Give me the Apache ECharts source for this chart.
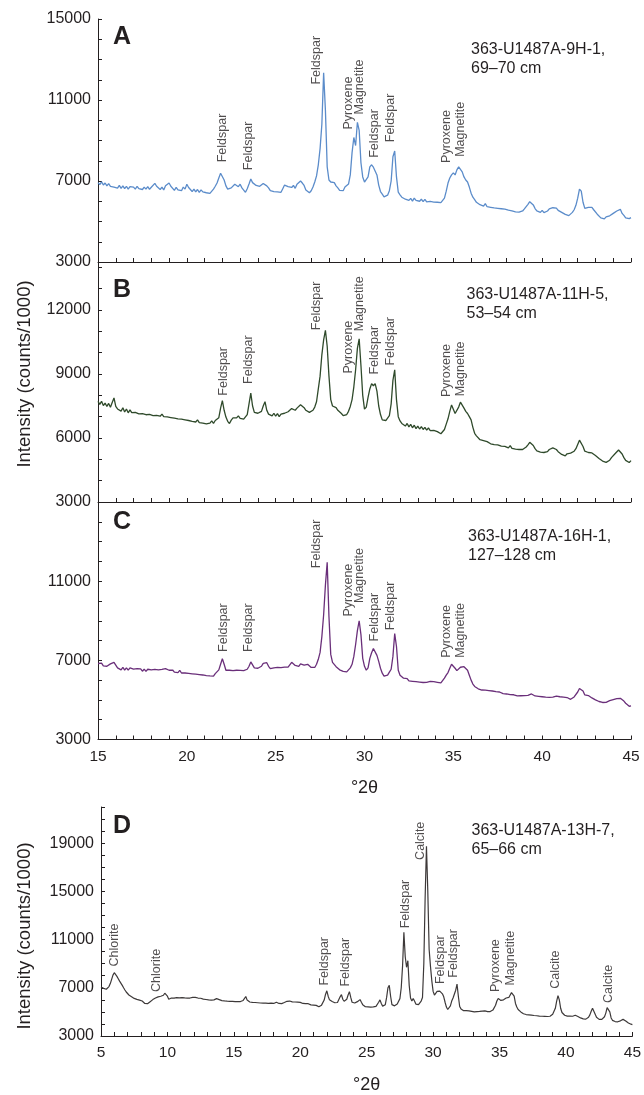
<!DOCTYPE html>
<html>
<head>
<meta charset="utf-8">
<script src="https://cdn.jsdelivr.net/npm/echarts@6/dist/echarts.min.js"></script>
<style>
  html, body { margin: 0; padding: 0; background: #ffffff; }
  #chart { width: 644px; height: 1095px; }
</style>
</head>
<body>
<div id="chart"></div>
<script>
// XRD diffractograms, Site U1487 — intensity sampled every 0.1 °2θ
const stepDeg = 0.1;
const startABC = 15;   // panels A–C start at 15 °2θ
const startD = 5;      // panel D starts at 5 °2θ

// Panel A: 363-U1487A-9H-1, 69–70 cm (one row per degree, 15–45 °2θ)
const intensityA = [
  6920,6820,6960,6800,6900,6760,6870,6740,6800,6700,
  6790,6650,6780,6640,6760,6620,6740,6600,6720,6640,
  6700,6600,6740,6620,6680,6580,6700,6600,6720,6590,
  6690,6760,6880,6740,6690,6580,6700,6560,6760,6840,
  6900,6740,6660,6540,6690,6560,6620,6520,6700,6600,
  6840,6680,6620,6480,6600,6460,6580,6440,6560,6460,
  6520,6420,6500,6390,6480,6600,6740,6900,7150,7380,
  7420,7050,6760,6600,6560,6660,6700,6840,6900,6720,
  6840,6660,6580,6440,6620,6850,7100,6920,6900,6780,
  6820,6740,6800,6880,6950,6760,6660,6520,6580,6480,
  6560,6460,6540,6440,6620,6800,6880,6720,6740,6680,
  6780,6640,6840,6880,7000,6900,6780,6560,6480,6420,
  6520,6700,6950,7250,7800,8600,9800,12350,10500,7700,
  7050,6950,6860,6920,6760,6660,6540,6580,6520,6700,
  6640,6850,7300,8400,9150,8750,9900,9500,7900,7200,
  6950,6900,7200,7700,7800,7680,7650,7300,6800,6480,
  6350,6220,6180,6300,6520,7000,8200,8480,7200,6450,
  6320,6200,6220,6100,6160,6040,6140,6010,6150,6040,
  6120,6000,6100,5980,6090,5970,6060,5990,6070,5960,
  6040,5950,6020,5930,6010,6150,6500,6900,7150,7300,
  7400,7300,7550,7700,7650,7450,7200,7050,6950,6700,
  6400,6200,6080,5950,5920,5830,5870,5760,5880,5730,
  5790,5700,5760,5670,5740,5650,5720,5630,5690,5610,
  5660,5560,5640,5530,5590,5480,5560,5460,5540,5520,
  5620,5700,5850,5980,5990,5820,5640,5520,5540,5450,
  5550,5440,5530,5520,5620,5560,5680,5620,5660,5550,
  5560,5450,5460,5350,5380,5290,5380,5450,5580,5800,
  6150,6600,6500,5950,5650,5620,5700,5740,5700,5580,
  5540,5360,5300,5180,5220,5130,5230,5150,5280,5290,
  5400,5430,5520,5550,5600,5400,5300,5180,5200,5140,
  5190
];

// Panel B: 363-U1487A-11H-5, 53–54 cm
const intensityB = [
  7720,7580,7720,7520,7640,7480,7620,7440,7660,7880,
  7480,7360,7400,7260,7420,7220,7360,7180,7320,7190,
  7260,7200,7240,7130,7220,7140,7190,7090,7180,7110,
  7150,7050,7140,7060,7110,7020,7120,7000,7080,6990,
  7050,6960,7040,6930,6990,6900,6970,6880,6940,6850,
  6910,6820,6890,6780,6870,6750,6850,6720,6790,6700,
  6760,6660,6740,6700,6800,6690,6820,6740,6950,7400,
  7750,7300,6980,6780,6680,6840,6940,7020,6940,7040,
  6920,7010,6880,6970,7100,7600,8100,7500,7200,7120,
  7160,7100,7250,7500,7700,7300,7120,7180,7040,7160,
  7020,7140,7000,7120,7080,7160,7100,7230,7240,7380,
  7420,7300,7400,7440,7560,7500,7420,7300,7280,7200,
  7260,7300,7450,7700,8300,8900,9900,10600,11050,10300,
  8900,7800,7500,7450,7420,7300,7220,7150,7050,6990,
  7100,7250,7480,7800,8400,9200,10200,10650,9400,8000,
  7350,7450,7900,8300,8550,8450,8550,8200,7500,7100,
  6850,6760,6820,6900,7050,7600,8700,9200,7800,7000,
  6800,6680,6700,6560,6680,6520,6640,6480,6600,6440,
  6560,6420,6530,6400,6500,6370,6470,6350,6420,6360,
  6380,6300,6320,6200,6240,6400,6650,6900,7250,7550,
  7600,7150,7200,7450,7680,7650,7400,7250,7150,7000,
  6850,6500,6220,6100,6050,5920,5940,5880,5900,5830,
  5850,5730,5820,5690,5740,5680,5720,5620,5700,5610,
  5650,5540,5640,5510,5580,5480,5570,5460,5550,5460,
  5520,5580,5680,5800,5820,5650,5500,5400,5380,5340,
  5400,5320,5370,5360,5460,5450,5540,5480,5460,5360,
  5340,5230,5240,5160,5260,5180,5290,5280,5380,5500,
  5700,5900,5930,5600,5380,5420,5320,5400,5300,5280,
  5180,5140,5040,5000,4920,4920,4860,4940,4960,5080,
  5120,5260,5330,5440,5430,5250,5080,4950,4900,4850,
  4940
];

// Panel C: 363-U1487A-16H-1, 127–128 cm
const intensityC = [
  6840,6740,6860,6720,6820,6700,6800,6820,6900,6900,
  6760,6620,6640,6520,6650,6510,6620,6500,6620,6520,
  6560,6470,6580,6480,6570,6450,6560,6440,6550,6460,
  6520,6440,6540,6450,6520,6420,6540,6460,6580,6480,
  6500,6400,6510,6400,6480,6380,6490,6360,6460,6360,
  6430,6340,6420,6320,6410,6300,6390,6280,6370,6260,
  6330,6230,6310,6210,6290,6200,6330,6420,6520,6800,
  7080,6800,6500,6400,6500,6400,6480,6380,6500,6400,
  6490,6390,6480,6460,6550,6700,6920,6850,6620,6560,
  6600,6600,6700,6850,6920,6880,6700,6580,6520,6620,
  6530,6640,6540,6630,6560,6660,6570,6660,6740,6900,
  6920,6740,6640,6700,6820,6880,6760,6820,6800,6720,
  6640,6600,6640,6800,7050,7400,8200,9300,10800,11950,
  9200,7300,6900,6800,6680,6620,6520,6540,6440,6450,
  6420,6520,6620,6800,7200,7800,8500,9000,8300,7100,
  6700,6500,6620,7100,7380,7600,7550,7250,6950,6600,
  6350,6200,6170,6250,6400,6550,7200,8350,7700,6500,
  6250,6150,6100,6000,6080,5960,6040,5940,6010,5920,
  6000,5900,5980,5880,5960,5890,5900,5940,5840,5920,
  5820,5890,5800,5860,5960,6100,6250,6380,6600,6800,
  6830,6600,6480,6580,6650,6620,6680,6600,6500,6250,
  6000,5800,5680,5580,5560,5480,5500,5420,5490,5400,
  5470,5380,5450,5360,5420,5330,5400,5300,5320,5310,
  5300,5280,5270,5250,5260,5300,5200,5280,5210,5290,
  5220,5300,5230,5320,5300,5280,5200,5270,5180,5250,
  5160,5230,5140,5220,5130,5200,5140,5150,5190,5090,
  5160,5070,5140,5060,5120,5040,5030,5080,5150,5250,
  5400,5580,5660,5450,5250,5180,5220,5120,5100,5000,
  5000,4920,4920,4860,4870,4810,4880,4880,4960,4960,
  5020,5000,5070,5010,5080,4980,4940,4830,4780,4680,
  4700
];

// Panel D: 363-U1487A-13H-7, 65–66 cm (5–45 °2θ)
const intensityD = [
  7060,7000,6950,6900,6880,6950,7100,7350,7700,8050,
  8250,8150,7950,7750,7550,7400,7200,7000,6820,6650,
  6500,6400,6330,6260,6200,6120,6080,6040,6000,5980,
  5950,5900,5820,5700,5620,5680,5760,5850,5950,6020,
  6080,6150,6200,6250,6220,6300,6330,6380,6550,6700,
  6300,6050,6100,6150,6080,6140,6100,6180,6120,6170,
  6130,6190,6110,6160,6090,6140,6100,6150,6170,6200,
  6160,6210,6180,6150,6190,6130,6100,6060,6090,6030,
  6060,6000,6040,5980,6030,6000,6060,6100,6080,6020,
  5970,5940,5970,5910,5940,5890,5930,5880,5920,5870,
  5910,5860,5900,5850,5890,5860,5900,5950,6100,6280,
  5980,5860,5820,5850,5790,5830,5780,5810,5760,5800,
  5740,5780,5730,5770,5720,5760,5710,5750,5720,5760,
  5700,5740,5800,5740,5700,5740,5690,5730,5780,5840,
  5880,5850,5900,5860,5830,5870,5820,5780,5810,5760,
  5790,5740,5700,5730,5680,5640,5680,5620,5580,5620,
  5560,5600,5540,5480,5420,5460,5560,5700,5980,6450,
  6750,6300,6000,5900,5860,5820,5760,5800,5780,5900,
  6250,6430,6050,5880,5900,6050,6400,6680,6200,5800,
  5700,5740,5780,5850,5950,6020,5800,5600,5480,5430,
  5460,5420,5450,5400,5440,5420,5400,5460,5550,5800,
  6000,5700,5480,5450,5600,6200,7000,7200,6300,5600,
  5480,5500,5580,5650,5800,6100,7000,8800,11600,9600,
  8700,9250,7200,6150,5900,6100,5900,5650,5560,5600,
  5700,5900,6200,9000,14500,18750,15000,10200,8800,7600,
  6700,6400,6500,6700,6780,6720,6650,6500,6250,5800,
  5400,5200,5250,5500,5900,6150,6100,6800,7300,6300,
  5450,5250,5150,5100,5060,5100,5040,5080,5000,5040,
  4960,5000,4980,5030,4990,5040,5000,5060,5120,5080,
  5050,5020,5060,5030,5080,5150,5300,5550,5900,6120,
  6180,5950,5880,6000,6100,6150,6120,6200,6350,6600,
  6700,6300,5700,5400,5200,5100,5000,4920,4850,4800,
  4780,4820,4760,4790,4730,4760,4700,4740,4680,4710,
  4650,4690,4640,4680,4630,4670,4620,4660,4640,4700,
  4800,4950,5300,5900,6350,6000,5300,4950,4800,4720,
  4680,4650,4620,4650,4600,4640,4700,4720,4680,4620,
  4560,4500,4460,4420,4380,4400,4450,4550,4750,5050,
  5300,5200,4800,4550,4420,4380,4340,4380,4450,4600,
  4900,5350,5480,5000,4500,4300,4240,4200,4230,4180,
  4220,4260,4320,4380,4350,4250,4150,4080,4020,3980,
  3950
];

// Mineral identifications: [mineral, °2θ, intensity at the foot of the label]
const mineralsA = [
  ['Feldspar', 22.0, 7900], ['Feldspar', 23.5, 7510], ['Feldspar', 27.31, 11740],
  ['Pyroxene', 29.09, 9520], ['Magnetite', 29.74, 10260], ['Feldspar', 30.59, 8120],
  ['Feldspar', 31.47, 8890], ['Pyroxene', 34.62, 7870], ['Magnetite', 35.41, 8170]
];
const mineralsB = [
  ['Feldspar', 22.05, 7960], ['Feldspar', 23.5, 8510], ['Feldspar', 27.31, 11030],
  ['Pyroxene', 29.09, 9000], ['Magnetite', 29.74, 10980], ['Feldspar', 30.59, 8950],
  ['Feldspar', 31.47, 9370], ['Pyroxene', 34.62, 7900], ['Magnetite', 35.41, 7930]
];
const mineralsC = [
  ['Feldspar', 22.05, 7400], ['Feldspar', 23.5, 7400], ['Feldspar', 27.31, 11630],
  ['Pyroxene', 29.09, 9190], ['Magnetite', 29.74, 9870], ['Feldspar', 30.59, 7930],
  ['Feldspar', 31.47, 8490], ['Pyroxene', 34.62, 7100], ['Magnetite', 35.41, 7100]
];
const mineralsD = [
  ['Chlorite', 6.0, 8720], ['Chlorite', 9.18, 6610], ['Feldspar', 21.81, 7140],
  ['Feldspar', 23.44, 7060], ['Feldspar', 27.94, 11890], ['Calcite', 29.07, 17570],
  ['Feldspar', 30.57, 7270], ['Feldspar', 31.57, 7800], ['Pyroxene', 34.7, 6610],
  ['Magnetite', 35.82, 7140], ['Calcite', 39.2, 6880], ['Calcite', 43.2, 5690]
];

// Panel letters and sample identifiers
const panelLetters = ['A', 'B', 'C', 'D'];
const sampleIds = [
  '363-U1487A-9H-1,\n69–70 cm',
  '363-U1487A-11H-5,\n53–54 cm',
  '363-U1487A-16H-1,\n127–128 cm',
  '363-U1487A-13H-7,\n65–66 cm'
];
const yTitle = 'Intensity (counts/1000)';
const xTitle = '°2θ';

const FONT = "'Liberation Sans', Arial, Helvetica, sans-serif";
const INK = '#231f20';
const lineColors = ['#5b8cca', '#2f4a2b', '#6a2f7a', '#3d3939'];
const lineWidths = [1.3, 1.3, 1.3, 1.2];

function toPairs(start, values) {
  return values.map((v, i) => [+(start + i * stepDeg).toFixed(1), v]);
}

const grids = [
  { left: 98, top: 19, width: 533, height: 243 },
  { left: 98, top: 262, width: 533, height: 240 },
  { left: 98, top: 502, width: 533, height: 237.5 },
  { left: 101, top: 807, width: 533, height: 240 }
];

function xAxisFor(idx, min, max, withLabels) {
  return {
    type: 'value', gridIndex: idx, min: min, max: max, interval: 1,
    axisLine: { show: true, onZero: false, lineStyle: { color: INK, width: 1 } },
    axisTick: { show: true, inside: true, length: 4, lineStyle: { color: INK, width: 1 } },
    splitLine: { show: false },
    axisLabel: {
      show: withLabels, margin: 9, fontSize: 15.5, color: INK, fontFamily: FONT,
      formatter: v => (v % 5 === 0 ? String(v) : '')
    },
    name: withLabels ? xTitle : '',
    nameLocation: 'middle', nameGap: 40,
    nameTextStyle: { fontSize: 18, color: INK, fontFamily: FONT }
  };
}

function yAxisFor(idx, min, max, labelEvery, labelMax) {
  return {
    type: 'value', gridIndex: idx, min: min, max: max, interval: 1000,
    axisLine: { show: true, onZero: false, lineStyle: { color: INK, width: 1 } },
    axisTick: { show: true, inside: true, length: 4, lineStyle: { color: INK, width: 1 } },
    splitLine: { show: false },
    axisLabel: {
      margin: 7, fontSize: 16, color: INK, fontFamily: FONT,
      formatter: v => ((v - min) % labelEvery === 0 && v <= labelMax ? String(v) : '')
    }
  };
}

function traceSeries(idx, start, values) {
  return {
    type: 'line', xAxisIndex: idx, yAxisIndex: idx,
    data: toPairs(start, values),
    showSymbol: false, symbol: 'none', smooth: false,
    lineStyle: { color: lineColors[idx], width: lineWidths[idx] },
    silent: true, z: 2
  };
}

function mineralSeries(idx, list) {
  return {
    type: 'scatter', xAxisIndex: idx, yAxisIndex: idx,
    symbolSize: 1, itemStyle: { color: 'rgba(0,0,0,0)' },
    silent: true, z: 3,
    data: list.map(m => ({ name: m[0], value: [m[1], m[2]] })),
    label: {
      show: true, position: 'top', distance: 0, rotate: 90,
      align: 'left', verticalAlign: 'middle',
      formatter: p => p.name,
      fontSize: 12.5, color: INK, fontFamily: FONT
    }
  };
}

const letterY = [37.5, 290, 522.5, 826];
const idPos = [[471, 40.5], [466.5, 285.5], [468, 527], [471.5, 821]];

const graphics = [];
panelLetters.forEach((t, i) => {
  graphics.push({
    type: 'text', x: 113, y: letterY[i], silent: true,
    style: { text: t, font: `bold 25px ${FONT}`, fill: INK, textAlign: 'left', textVerticalAlign: 'middle' }
  });
  graphics.push({
    type: 'text', x: idPos[i][0], y: idPos[i][1], silent: true,
    style: { text: sampleIds[i], font: `16px ${FONT}`, lineHeight: 19, fill: INK, textAlign: 'left', textVerticalAlign: 'top' }
  });
});
[374, 936].forEach(cy => {
  graphics.push({
    type: 'text', x: 25, y: cy, rotation: Math.PI / 2, silent: true,
    style: { text: yTitle, font: `18.5px ${FONT}`, fill: INK, textAlign: 'center', textVerticalAlign: 'middle' }
  });
});

const chart = echarts.init(document.getElementById('chart'), null, { renderer: 'canvas' });
chart.setOption({
  animation: false,
  backgroundColor: '#ffffff',
  grid: grids,
  xAxis: [
    xAxisFor(0, 15, 45, false),
    xAxisFor(1, 15, 45, false),
    xAxisFor(2, 15, 45, true),
    xAxisFor(3, 5, 45, true)
  ],
  yAxis: [
    yAxisFor(0, 3000, 15000, 4000, 15000),
    yAxisFor(1, 3000, 14250, 3000, 12000),
    yAxisFor(2, 3000, 15000, 4000, 11000),
    yAxisFor(3, 3000, 22000, 4000, 19000)
  ],
  series: [
    traceSeries(0, startABC, intensityA),
    traceSeries(1, startABC, intensityB),
    traceSeries(2, startABC, intensityC),
    traceSeries(3, startD, intensityD),
    mineralSeries(0, mineralsA),
    mineralSeries(1, mineralsB),
    mineralSeries(2, mineralsC),
    mineralSeries(3, mineralsD)
  ],
  graphic: graphics
});
</script>
</body>
</html>
